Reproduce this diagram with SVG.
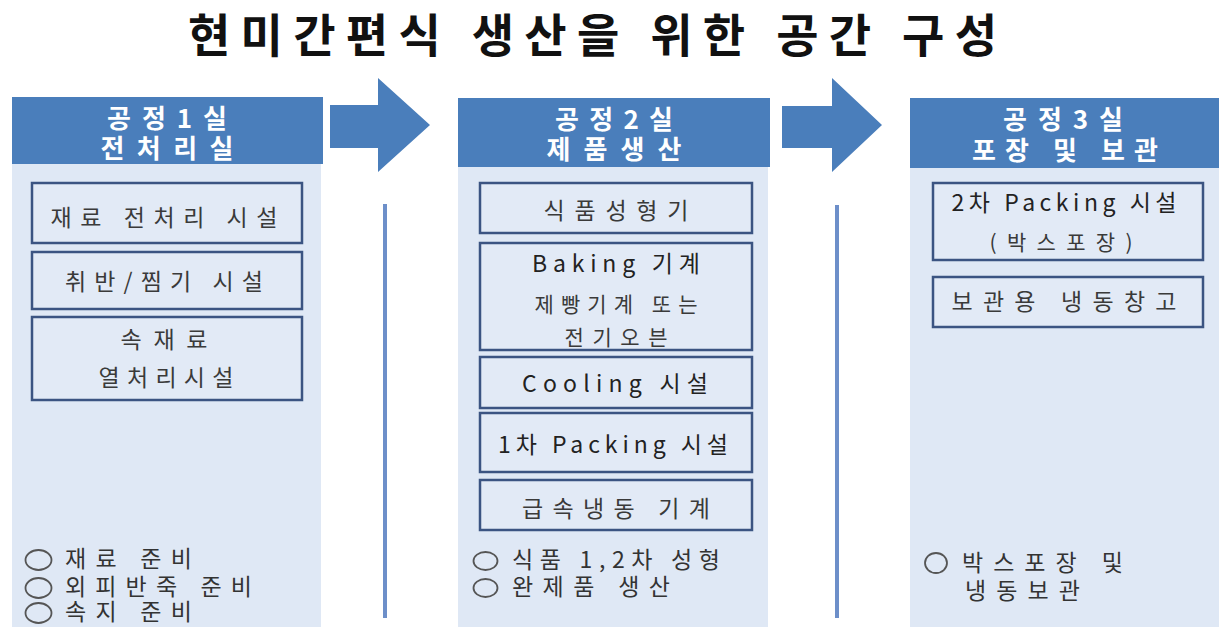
<svg xmlns="http://www.w3.org/2000/svg" width="1219" height="627" viewBox="0 0 1219 627">
<style>
.hdr{fill:#4a7ebb}
.pan{fill:#dfe8f5}
.box{fill:#e2eaf6;stroke:#3b5482;stroke-width:2.5}
.arrow{fill:#4a7ebb}
.vline{stroke:#6d8fc9;stroke-width:4}
text{font-family:"Noto Sans CJK KR","Noto Sans",sans-serif}
.title{font-size:46px;font-weight:bold;fill:#111}
.ht{font-size:26px;font-weight:bold;fill:#fff;text-anchor:middle}
.bt{font-size:23px;fill:#3a3a3a;text-anchor:middle}
.bs{font-size:21px;fill:#3a3a3a;text-anchor:middle}
.lat{fill:#222;font-size:23px}
.lt{font-size:23px;fill:#333}
.bul{fill:none;stroke:#555;stroke-width:1.8}
</style>
<rect width="1219" height="627" fill="#fff"/>
<text class="title" x="188" y="52" textLength="809" lengthAdjust="spacing">현미간편식 생산을 위한 공간 구성</text>

<g id="connectors">
<polygon class="arrow" points="330,105 378,105 378,78 430,125 378,172 378,148 330,148"/>
<polygon class="arrow" points="782,106 832,106 832,78 882,125 832,172 832,148 782,148"/>
<line class="vline" x1="385" y1="204" x2="385" y2="618"/>
<line class="vline" x1="837" y1="205" x2="837" y2="618"/>
</g>

<g id="room1">
<rect class="pan" x="12" y="163" width="309" height="464"/>
<rect class="hdr" x="12" y="97" width="311" height="67"/>
<text class="ht" x="167" y="128" textLength="120" lengthAdjust="spacing">공정1실</text>
<text class="ht" x="167" y="158" textLength="133" lengthAdjust="spacing">전처리실</text>
<g id="r1b1"><rect class="box" x="32" y="183" width="270" height="60"/>
<text class="bt" x="164" y="226" textLength="227" lengthAdjust="spacing">재료 전처리 시설</text></g>
<g id="r1b2"><rect class="box" x="32" y="252" width="270" height="57"/>
<text class="bt" x="164" y="290" textLength="198" lengthAdjust="spacing">취반/찜기 시설</text></g>
<g id="r1b3"><rect class="box" x="32" y="317" width="270" height="83"/>
<text class="bt" x="164" y="348" textLength="87" lengthAdjust="spacing">속재료</text>
<text class="bt" x="166" y="386" textLength="135" lengthAdjust="spacing">열처리시설</text></g>
<g id="r1notes">
<ellipse class="bul" cx="38.5" cy="560" rx="13" ry="10"/><text class="lt" x="65" y="567" textLength="127" lengthAdjust="spacing">재료 준비</text>
<ellipse class="bul" cx="38.5" cy="588" rx="13" ry="10"/><text class="lt" x="65" y="595" textLength="187" lengthAdjust="spacing">외피반죽 준비</text>
<ellipse class="bul" cx="38.5" cy="613" rx="13" ry="10"/><text class="lt" x="65" y="620" textLength="127" lengthAdjust="spacing">속지 준비</text>
</g>
</g>

<g id="room2">
<rect class="pan" x="458" y="166" width="310" height="461"/>
<rect class="hdr" x="458" y="98" width="312" height="69"/>
<text class="ht" x="614" y="129" textLength="118" lengthAdjust="spacing">공정2실</text>
<text class="ht" x="614" y="159" textLength="135" lengthAdjust="spacing">제품생산</text>
<g id="r2b1"><rect class="box" x="480" y="183" width="272" height="50"/>
<text class="bt" x="616" y="219" textLength="145" lengthAdjust="spacing">식품성형기</text></g>
<g id="r2b2"><rect class="box" x="480" y="243" width="272" height="107"/>
<text class="bt lat" x="616" y="272" textLength="168" lengthAdjust="spacing">Baking 기계</text>
<text class="bs" x="616" y="312" textLength="163" lengthAdjust="spacing">제빵기계 또는</text>
<text class="bs" x="616" y="345" textLength="103" lengthAdjust="spacing">전기오븐</text></g>
<g id="r2b3"><rect class="box" x="480" y="357" width="272" height="51"/>
<text class="bt lat" x="615" y="392" textLength="186" lengthAdjust="spacing">Cooling 시설</text></g>
<g id="r2b4"><rect class="box" x="480" y="413" width="272" height="59"/>
<text class="bt lat" x="613" y="453" textLength="230" lengthAdjust="spacing">1차 Packing 시설</text></g>
<g id="r2b5"><rect class="box" x="480" y="480" width="272" height="50"/>
<text class="bt" x="616" y="517" textLength="188" lengthAdjust="spacing">급속냉동 기계</text></g>
<g id="r2notes">
<ellipse class="bul" cx="485.5" cy="561" rx="12" ry="9"/><text class="lt" x="512" y="568" textLength="208" lengthAdjust="spacing">식품 1,2차 성형</text>
<ellipse class="bul" cx="485.5" cy="588" rx="12" ry="9"/><text class="lt" x="512" y="595" textLength="158" lengthAdjust="spacing">완제품 생산</text>
</g>
</g>

<g id="room3">
<rect class="pan" x="910" y="167" width="309" height="460"/>
<rect class="hdr" x="910" y="98" width="309" height="70"/>
<text class="ht" x="1063" y="129" textLength="120" lengthAdjust="spacing">공정3실</text>
<text class="ht" x="1065" y="160" textLength="186" lengthAdjust="spacing">포장 및 보관</text>
<g id="r3b1"><rect class="box" x="933" y="183" width="270" height="77"/>
<text class="bt lat" x="1064" y="211" textLength="225" lengthAdjust="spacing">2차 Packing 시설</text>
<text class="bs" x="1061" y="250" textLength="143" lengthAdjust="spacing">(박스포장)</text></g>
<g id="r3b2"><rect class="box" x="933" y="277" width="270" height="50"/>
<text class="bt" x="1064" y="310" textLength="225" lengthAdjust="spacing">보관용 냉동창고</text></g>
<g id="r3notes">
<ellipse class="bul" cx="936" cy="563" rx="11" ry="10"/><text class="lt" x="962" y="571" textLength="161" lengthAdjust="spacing">박스포장 및</text>
<text class="lt" x="965" y="599" textLength="115" lengthAdjust="spacing">냉동보관</text>
</g>
</g>
</svg>
